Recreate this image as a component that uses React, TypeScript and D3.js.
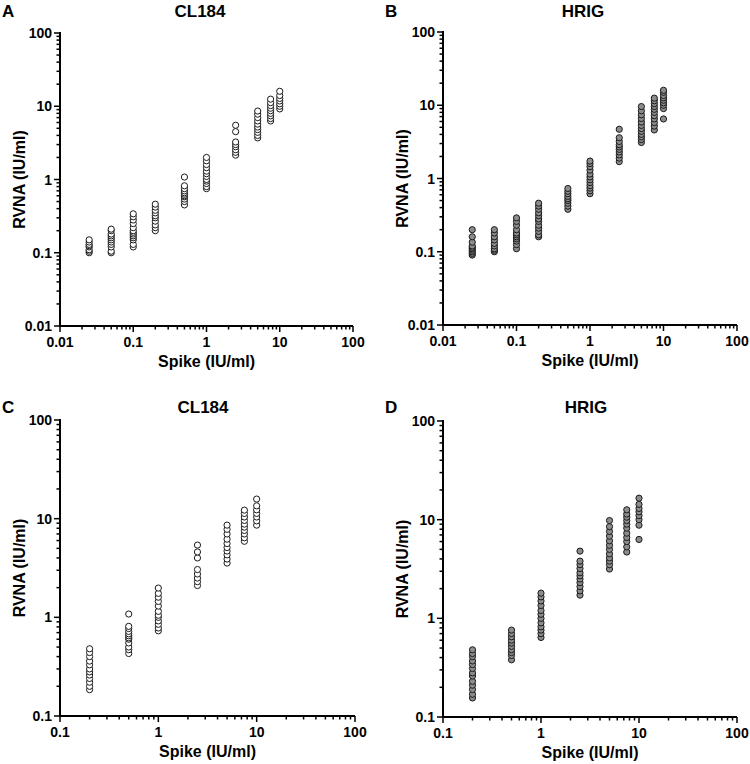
import React from "react";
import * as d3 from "d3";

// ---------- data ----------
const spikesTop = [0.025, 0.05, 0.1, 0.2, 0.5, 1, 2.5, 5, 7.5, 10];
const spikesBottom = [0.2, 0.5, 1, 2.5, 5, 7.5, 10];

const cl184Top: number[][] = [
  [0.1, 0.105, 0.11, 0.12, 0.125, 0.13, 0.14, 0.15],
  [0.1, 0.105, 0.12, 0.13, 0.14, 0.15, 0.16, 0.17, 0.18, 0.2, 0.21],
  [0.12, 0.13, 0.15, 0.16, 0.17, 0.18, 0.19, 0.2, 0.22, 0.25, 0.28, 0.31, 0.34],
  [0.2, 0.22, 0.24, 0.27, 0.3, 0.32, 0.35, 0.38, 0.42, 0.46],
  [0.45, 0.5, 0.54, 0.58, 0.6, 0.63, 0.66, 0.7, 0.75, 0.82, 1.08],
  [0.75, 0.8, 0.88, 0.95, 1.0, 1.1, 1.2, 1.3, 1.45, 1.6, 1.8, 2.0],
  [2.15, 2.35, 2.55, 2.8, 3.0, 3.25, 4.5, 5.5],
  [3.7, 4.0, 4.4, 4.8, 5.2, 5.7, 6.3, 7.0, 7.8, 8.6],
  [6.3, 6.8, 7.4, 8.0, 8.7, 9.4, 10.2, 11.2, 12.5],
  [9.2, 10, 10.8, 11.8, 12.8, 14, 16],
];

const hrigTop: number[][] = [
  [0.09, 0.095, 0.1, 0.105, 0.11, 0.115, 0.12, 0.135, 0.16, 0.2],
  [0.1, 0.105, 0.11, 0.12, 0.13, 0.145, 0.16, 0.18, 0.2],
  [0.11, 0.125, 0.14, 0.15, 0.16, 0.17, 0.18, 0.2, 0.23, 0.26, 0.29],
  [0.16, 0.17, 0.19, 0.21, 0.23, 0.26, 0.28, 0.31, 0.34, 0.38, 0.42, 0.46],
  [0.38, 0.42, 0.46, 0.5, 0.53, 0.57, 0.62, 0.67, 0.73],
  [0.62, 0.68, 0.74, 0.8, 0.88, 0.96, 1.05, 1.15, 1.3, 1.45, 1.6, 1.73],
  [1.7, 1.9, 2.1, 2.3, 2.5, 2.7, 2.9, 3.2, 3.6, 4.7],
  [3.1, 3.4, 3.7, 4.0, 4.4, 4.8, 5.3, 5.9, 6.6, 7.4, 8.4, 9.6],
  [4.6, 5.2, 5.8, 6.5, 7.2, 8.0, 8.8, 9.6, 10.5, 11.5, 12.5],
  [6.5, 9.0, 10, 10.8, 11.7, 12.6, 13.6, 15, 16],
];

const cl184Bottom: number[][] = [
  [0.185, 0.2, 0.22, 0.24, 0.26, 0.28, 0.3, 0.33, 0.36, 0.4, 0.44, 0.48],
  [0.43, 0.47, 0.5, 0.55, 0.6, 0.62, 0.65, 0.68, 0.72, 0.77, 0.81, 1.08],
  [0.73, 0.78, 0.85, 0.92, 1.0, 1.05, 1.15, 1.3, 1.45, 1.6, 1.75, 1.98],
  [2.1, 2.3, 2.5, 2.75, 3.05, 4.0, 4.6, 5.4],
  [3.55, 3.9, 4.3, 4.7, 5.1, 5.6, 6.2, 7.0, 7.8, 8.6],
  [5.9, 6.4, 7.0, 7.6, 8.2, 8.8, 9.6, 10.4, 11.3, 12.2],
  [8.6, 9.5, 10.4, 11.3, 12.3, 13.5, 15.8],
];

const hrigBottom: number[][] = [
  [0.156, 0.17, 0.19, 0.21, 0.23, 0.26, 0.28, 0.31, 0.34, 0.37, 0.41, 0.44, 0.48],
  [0.38, 0.42, 0.45, 0.48, 0.52, 0.56, 0.6, 0.65, 0.7, 0.76],
  [0.64, 0.7, 0.76, 0.82, 0.9, 1.0, 1.1, 1.2, 1.35, 1.5, 1.65, 1.8],
  [1.72, 1.9, 2.1, 2.3, 2.5, 2.7, 2.9, 3.2, 3.5, 3.8, 4.8],
  [3.16, 3.5, 3.8, 4.1, 4.5, 5.0, 5.5, 6.1, 6.8, 7.6, 8.5, 9.8],
  [4.7, 5.3, 6.0, 6.6, 7.3, 8.2, 9.0, 9.8, 10.6, 11.4, 12.6],
  [6.3, 8.8, 10, 11, 12, 13, 14.3, 16.5],
];

const tickLabelsTop = ["0.01", "0.1", "1", "10", "100"];
const tickLabelsBottom = ["0.1", "1", "10", "100"];

const FONT = "'Liberation Sans', Arial, Helvetica, sans-serif";

type PanelProps = {
  left: number;
  top: number;
  width: number;
  height: number;
  domain: [number, number];
  labels: string[];
  spikes: number[];
  values: number[][];
  fill: string;
  title: string;
  titleX: number;
  titleY: number;
  letter: string;
  letterX: number;
};

function Panel(p: PanelProps) {
  const x = d3.scaleLog().domain(p.domain).range([p.left, p.left + p.width]);
  const y = d3.scaleLog().domain(p.domain).range([p.top + p.height, p.top]);
  const ticks = x.ticks();
  const isMajor = (t: number) => Math.abs(Math.log10(t) - Math.round(Math.log10(t))) < 1e-9;
  const majors = ticks.filter(isMajor);
  const x0 = p.left;
  const y0 = p.top + p.height;
  const points: { sx: number; v: number }[] = [];
  p.spikes.forEach((s, i) => p.values[i].forEach((v) => points.push({ sx: s, v })));

  return (
    <g>
      <text x={p.letterX} y={p.titleY} fontFamily={FONT} fontWeight="bold" fontSize={17}>
        {p.letter}
      </text>
      <text x={p.titleX} y={p.titleY} textAnchor="middle" fontFamily={FONT} fontWeight="bold" fontSize={17}>
        {p.title}
      </text>
      {/* y axis */}
      <line x1={x0} x2={x0} y1={p.top - 1} y2={y0 + 1} stroke="#000" strokeWidth={2} />
      {ticks.map((t, i) => (
        <line
          key={"yt" + i}
          x1={x0 - (isMajor(t) ? 6 : 3.5)}
          x2={x0}
          y1={y(t)}
          y2={y(t)}
          stroke="#000"
          strokeWidth={1.5}
        />
      ))}
      {majors.map((t, i) => (
        <text
          key={"yl" + i}
          x={x0 - 8}
          y={y(t) + 5}
          textAnchor="end"
          fontFamily={FONT}
          fontWeight="bold"
          fontSize={14}
        >
          {p.labels[i]}
        </text>
      ))}
      {/* x axis */}
      <line x1={x0 - 1} x2={p.left + p.width} y1={y0} y2={y0} stroke="#000" strokeWidth={2} />
      {ticks.map((t, i) => (
        <line
          key={"xt" + i}
          x1={x(t)}
          x2={x(t)}
          y1={y0}
          y2={y0 + (isMajor(t) ? 6 : 3.5)}
          stroke="#000"
          strokeWidth={1.5}
        />
      ))}
      {majors.map((t, i) => (
        <text
          key={"xl" + i}
          x={x(t)}
          y={y0 + 21}
          textAnchor="middle"
          fontFamily={FONT}
          fontWeight="bold"
          fontSize={14}
        >
          {p.labels[i]}
        </text>
      ))}
      <text
        x={p.left + p.width / 2}
        y={y0 + 41}
        textAnchor="middle"
        fontFamily={FONT}
        fontWeight="bold"
        fontSize={16}
      >
        Spike (IU/ml)
      </text>
      <text
        transform={`translate(${p.left - 35},${p.top + p.height / 2}) rotate(-90)`}
        textAnchor="middle"
        fontFamily={FONT}
        fontWeight="bold"
        fontSize={16}
      >
        RVNA (IU/ml)
      </text>
      {points.map((pt, i) => (
        <circle
          key={"c" + i}
          cx={x(pt.sx)}
          cy={y(pt.v)}
          r={3.1}
          fill={p.fill}
          stroke="#1a1a1a"
          strokeWidth={1}
        />
      ))}
    </g>
  );
}

export default function App() {
  return (
    <svg
      width={750}
      height={764}
      style={{ position: "absolute", left: 0, top: 0, background: "#fff" }}
    >
      <rect width={750} height={764} fill="#fff" />
      <Panel
        left={60}
        top={33}
        width={293}
        height={293}
        domain={[0.01, 100]}
        labels={tickLabelsTop}
        spikes={spikesTop}
        values={cl184Top}
        fill="#ffffff"
        title="CL184"
        titleX={200}
        titleY={17}
        letter="A"
        letterX={2}
      />
      <Panel
        left={443}
        top={32}
        width={294}
        height={293}
        domain={[0.01, 100]}
        labels={tickLabelsTop}
        spikes={spikesTop}
        values={hrigTop}
        fill="#8c8c8c"
        title="HRIG"
        titleX={583}
        titleY={17}
        letter="B"
        letterX={385}
      />
      <Panel
        left={60}
        top={420}
        width={295}
        height={296}
        domain={[0.1, 100]}
        labels={tickLabelsBottom}
        spikes={spikesBottom}
        values={cl184Bottom}
        fill="#ffffff"
        title="CL184"
        titleX={203}
        titleY={413}
        letter="C"
        letterX={2}
      />
      <Panel
        left={443}
        top={421}
        width={294}
        height={296}
        domain={[0.1, 100]}
        labels={tickLabelsBottom}
        spikes={spikesBottom}
        values={hrigBottom}
        fill="#8c8c8c"
        title="HRIG"
        titleX={586}
        titleY={413}
        letter="D"
        letterX={385}
      />
    </svg>
  );
}
